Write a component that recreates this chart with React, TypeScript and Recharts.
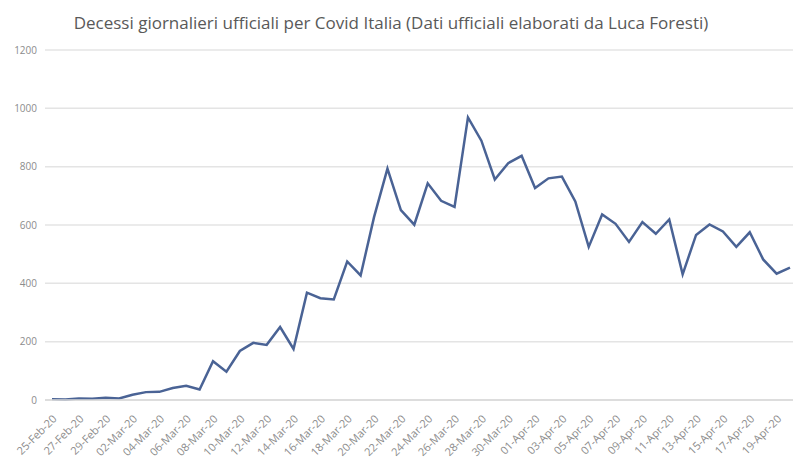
import { LineChart, Line, XAxis, YAxis, CartesianGrid } from "recharts";

const dates = [
  "25-Feb-20", "26-Feb-20", "27-Feb-20", "28-Feb-20", "29-Feb-20",
  "01-Mar-20", "02-Mar-20", "03-Mar-20", "04-Mar-20", "05-Mar-20",
  "06-Mar-20", "07-Mar-20", "08-Mar-20", "09-Mar-20", "10-Mar-20",
  "11-Mar-20", "12-Mar-20", "13-Mar-20", "14-Mar-20", "15-Mar-20",
  "16-Mar-20", "17-Mar-20", "18-Mar-20", "19-Mar-20", "20-Mar-20",
  "21-Mar-20", "22-Mar-20", "23-Mar-20", "24-Mar-20", "25-Mar-20",
  "26-Mar-20", "27-Mar-20", "28-Mar-20", "29-Mar-20", "30-Mar-20",
  "31-Mar-20", "01-Apr-20", "02-Apr-20", "03-Apr-20", "04-Apr-20",
  "05-Apr-20", "06-Apr-20", "07-Apr-20", "08-Apr-20", "09-Apr-20",
  "10-Apr-20", "11-Apr-20", "12-Apr-20", "13-Apr-20", "14-Apr-20",
  "15-Apr-20", "16-Apr-20", "17-Apr-20", "18-Apr-20", "19-Apr-20",
  "20-Apr-20",
];

const deaths = [
  3, 2, 5, 4, 8,
  5, 18, 27, 28, 41,
  49, 36, 133, 97, 168,
  196, 189, 250, 175, 368,
  349, 345, 475, 427, 627,
  793, 651, 601, 743, 683,
  662, 969, 889, 756, 812,
  837, 727, 760, 766, 681,
  525, 636, 604, 542, 610,
  570, 619, 431, 566, 602,
  578, 525, 575, 482, 433,
  454,
];

const yTicks = [0, 200, 400, 600, 800, 1000, 1200];

const data = dates.map((d, i) => ({ day: d, deaths: deaths[i] }));

export default function App() {
  return (
    <div
      style={{
        position: "absolute",
        top: 0,
        left: 0,
        width: 800,
        height: 468,
        background: "#fff",
        fontFamily: "'Open Sans', sans-serif",
      }}
    >
      <div
        style={{
          position: "absolute",
          top: 11,
          left: 0,
          width: 782,
          textAlign: "center",
          fontSize: 17,
          color: "#595959",
        }}
      >
        Decessi giornalieri ufficiali per Covid Italia (Dati ufficiali elaborati da Luca Foresti)
      </div>
      <LineChart
        width={800}
        height={468}
        data={data}
        margin={{ top: 50, right: 7, left: 0, bottom: 0 }}
      >
        <CartesianGrid vertical={false} stroke="#e4e4e4" strokeWidth={1.5} />
        <XAxis
          dataKey="day"
          interval={1}
          height={68}
          padding={{ left: 7, right: 3 }}
          tickLine={false}
          tickMargin={8}
          axisLine={{ stroke: "#d9d9d9", strokeWidth: 1.5 }}
          angle={-45}
          textAnchor="end"
          tick={{ fill: "#8c8c8c", fontSize: 11 }}
        />
        <YAxis
          width={45}
          domain={[0, 1200]}
          ticks={yTicks}
          tickLine={false}
          axisLine={false}
          tick={{ fill: "#8c8c8c", fontSize: 10 }}
        />
        <Line
          type="linear"
          dataKey="deaths"
          stroke="#4A6395"
          strokeWidth={2.5}
          dot={false}
          isAnimationActive={false}
        />
      </LineChart>
    </div>
  );
}
